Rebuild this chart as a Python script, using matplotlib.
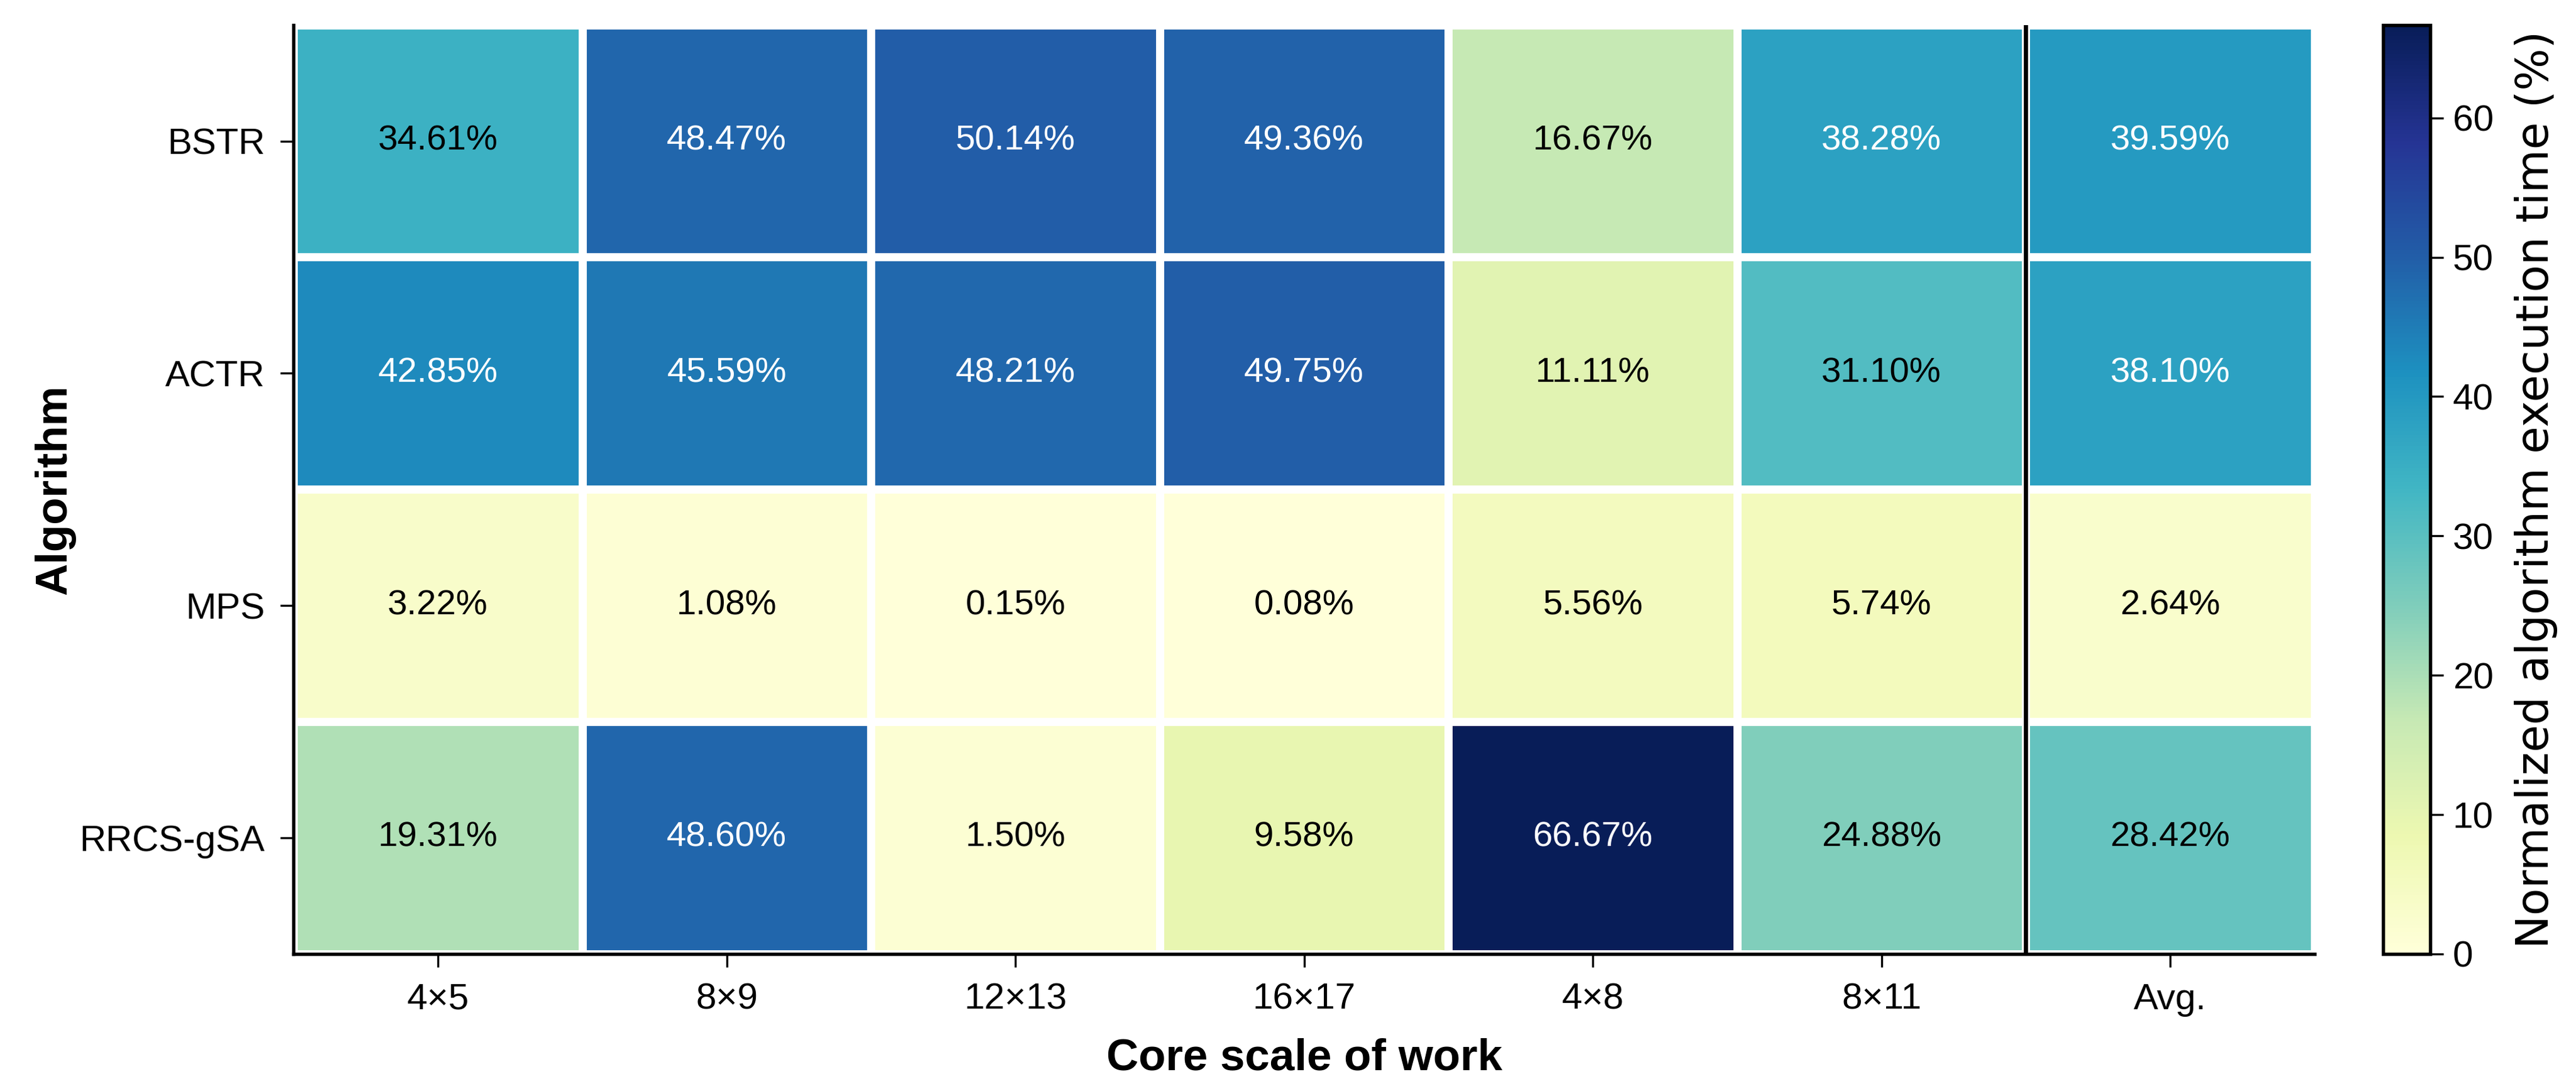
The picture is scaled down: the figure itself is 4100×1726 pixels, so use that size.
import numpy as np
import matplotlib
matplotlib.use("Agg")
import matplotlib.pyplot as plt

plt.rcParams['font.family'] = ['Liberation Sans', 'DejaVu Sans']

# Data (percent)
algorithms = ["BSTR", "ACTR", "MPS", "RRCS-gSA"]
scales = ["4×5", "8×9", "12×13", "16×17", "4×8", "8×11", "Avg."]
bstr = [34.61, 48.47, 50.14, 49.36, 16.67, 38.28, 39.59]
actr = [42.85, 45.59, 48.21, 49.75, 11.11, 31.10, 38.10]
mps = [3.22, 1.08, 0.15, 0.08, 5.56, 5.74, 2.64]
rrcs_gsa = [19.31, 48.60, 1.50, 9.58, 66.67, 24.88, 28.42]

values = np.array([bstr, actr, mps, rrcs_gsa])
n_rows, n_cols = values.shape

fig = plt.figure(figsize=(4100 / 300, 1726 / 300), dpi=300)
ax = fig.add_axes([0.114, 0.12, 0.7845, 0.857])
cax = fig.add_axes([0.925, 0.12, 0.0185, 0.857])

mesh = ax.pcolormesh(values, cmap="YlGnBu", vmin=0, vmax=values.max(),
                     edgecolors="white", linewidth=3)
ax.set_xlim(0, n_cols)
ax.set_ylim(n_rows, 0)

# cell annotations
for i in range(n_rows):
    for j in range(n_cols):
        v = values[i, j]
        color = "white" if v > 35 else "black"
        ax.text(j + 0.5, i + 0.5, f"{v:.2f}%", ha="center", va="center",
                fontsize=13.5, color=color)

# separator before the average column
ax.axvline(n_cols - 1, color="black", linewidth=1.6, zorder=5)

ax.set_xticks(np.arange(n_cols) + 0.5)
ax.set_xticklabels(scales, fontsize=14)
ax.set_yticks(np.arange(n_rows) + 0.5)
ax.set_yticklabels(algorithms, fontsize=14)
ax.tick_params(axis="both", direction="out", length=5, width=0.8, pad=6)

for side in ["top", "right"]:
    ax.spines[side].set_visible(False)
for side in ["left", "bottom"]:
    ax.spines[side].set_linewidth(1.3)

ax.set_xlabel("Core scale of work", fontsize=17, fontweight="bold", labelpad=8)
ax.set_ylabel("Algorithm", fontsize=17, fontweight="bold")
ax.yaxis.set_label_coords(-0.108, 0.5)

cbar = fig.colorbar(mesh, cax=cax)
cbar.set_ticks([0, 10, 20, 30, 40, 50, 60])
cbar.ax.tick_params(labelsize=14, length=5, width=0.8)
cbar.outline.set_linewidth(1.3)
cbar.set_label("Normalized algorithm execution time (%)", fontsize=17,
               family="DejaVu Sans", labelpad=8)

fig.savefig("out.png", dpi=300)
